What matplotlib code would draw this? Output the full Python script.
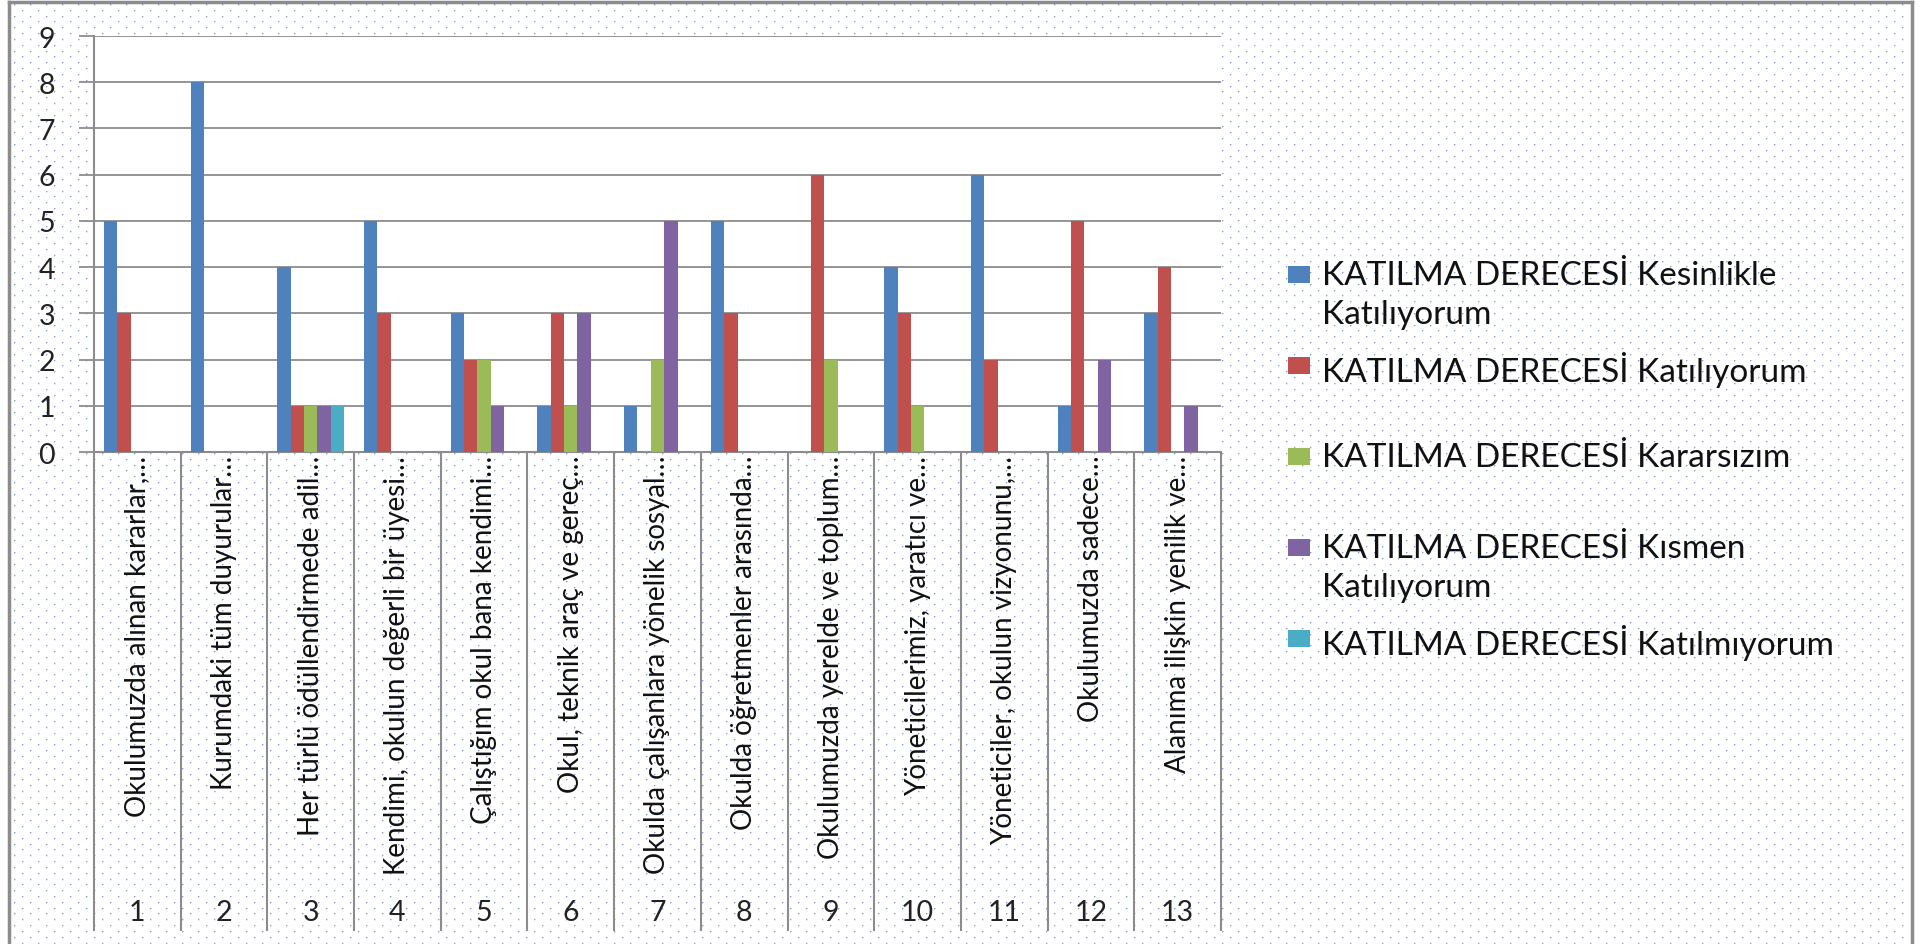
import numpy as np
import matplotlib
matplotlib.use("Agg")
import matplotlib.pyplot as plt
from matplotlib import transforms
from matplotlib.patches import Rectangle
from matplotlib.lines import Line2D

plt.rcParams['font.family'] = ['Lato', 'DejaVu Sans']

# data
questions = [
    "Okulumuzda alınan kararlar,…",
    "Kurumdaki tüm duyurular…",
    "Her türlü ödüllendirmede adil…",
    "Kendimi, okulun değerli bir üyesi…",
    "Çalıştığım okul bana kendimi…",
    "Okul, teknik araç ve gereç…",
    "Okulda çalışanlara yönelik sosyal…",
    "Okulda öğretmenler arasında…",
    "Okulumuzda yerelde ve toplum…",
    "Yöneticilerimiz, yaratıcı ve…",
    "Yöneticiler, okulun vizyonunu,…",
    "Okulumuzda sadece…",
    "Alanıma ilişkin yenilik ve…",
]
numbers = [str(i) for i in range(1, 14)]

kesinlikle = [5, 8, 4, 5, 3, 1, 1, 5, 0, 4, 6, 1, 3]
katiliyorum = [3, 0, 1, 3, 2, 3, 0, 3, 6, 3, 2, 5, 4]
kararsizim = [0, 0, 1, 0, 2, 1, 2, 0, 2, 1, 0, 0, 0]
kismen = [0, 0, 1, 0, 1, 3, 5, 0, 0, 0, 0, 2, 1]
katilmiyorum = [0, 0, 1, 0, 0, 0, 0, 0, 0, 0, 0, 0, 0]

series_names = [
    "KATILMA DERECESİ Kesinlikle\nKatılıyorum",
    "KATILMA DERECESİ Katılıyorum",
    "KATILMA DERECESİ Kararsızım",
    "KATILMA DERECESİ Kısmen\nKatılıyorum",
    "KATILMA DERECESİ Katılmıyorum",
]
series = [kesinlikle, katiliyorum, kararsizim, kismen, katilmiyorum]
colors = ["#4F81BD", "#C0504D", "#9BBB59", "#8064A2", "#4BACC6"]

W, H = 1923, 945
fig = plt.figure(figsize=(W / 100, H / 100), dpi=100, facecolor="white")

# dotted background like the excel chart area
bg = np.ones((H, W, 3))
dot = np.array([0.52, 0.64, 0.87])
halo = np.array([0.78, 0.84, 0.95])
for i, r in enumerate(np.arange(5, H, 5.83)):
    y = int(round(r))
    x0 = 14 + (8 if i % 2 else 0)
    xs = np.arange(x0, 1908, 16)
    bg[y, xs] = dot
    bg[y, xs + 1] = halo
    if y + 1 < H:
        bg[y + 1, xs] = halo
fig.figimage(bg, 0, 0, zorder=-10)

# frame
gray = "#8c8c8c"
fx = lambda p: p / W
fy = lambda p: 1 - p / H
fig.add_artist(Line2D([fx(9), fx(9)], [fy(3), fy(945)], color=gray, lw=2.5))
fig.add_artist(Line2D([fx(9), fx(1912)], [fy(3), fy(3)], color=gray, lw=2.5))
fig.add_artist(Line2D([fx(1912), fx(1912)], [fy(3), fy(945)], color=gray, lw=2.5))

ax = fig.add_axes([fx(94), fy(453), (1221 - 94) / W, (453 - 37) / H])
ax.set_facecolor("white")

x = np.arange(len(questions))
bw = 0.154
for k, (vals, c) in enumerate(zip(series, colors)):
    ax.bar(x + (k - 2) * bw, vals, width=bw, color=c, linewidth=0, zorder=3)

ax.set_xlim(-0.5, len(questions) - 0.5)
ax.set_ylim(0, 9)
ax.set_yticks(range(0, 10))
ax.yaxis.grid(True, color=gray, lw=1.3, zorder=0)
ax.set_axisbelow(True)
for s in ["top", "right"]:
    ax.spines[s].set_visible(False)
ax.spines["left"].set_color(gray)
ax.spines["bottom"].set_color(gray)
ax.spines["left"].set_linewidth(1.5)
ax.spines["bottom"].set_linewidth(1.5)

ax.tick_params(axis="y", direction="out", length=11, width=1.3, color=gray,
               labelsize=20.5, pad=17, labelcolor="#222222")
ax.set_xticks(x)
ax.set_xticklabels(questions, rotation=90, fontsize=20, color="#111111")
ax.tick_params(axis="x", which="major", length=0, pad=2)
ax.set_xticks(np.arange(-0.5, len(questions), 1), minor=True)
ax.tick_params(axis="x", which="minor", direction="out", length=345,
               width=1.5, color=gray)

trans = transforms.blended_transform_factory(ax.transData, ax.transAxes)
for i, n in zip(x, numbers):
    ax.text(i, (453 - 913) / 416, n, transform=trans, ha="center",
            va="center", fontsize=20.5, color="#222222")

# legend
for k, (name, c) in enumerate(zip(series_names, colors)):
    yc = 275 + 91 * k
    fig.add_artist(Rectangle((fx(1288), fy(yc + 9)), 22 / W, 17 / H,
                             transform=fig.transFigure, color=c, lw=0))
    fig.text(fx(1322), fy(yc - 14), name, ha="left", va="top",
             fontsize=24, color="#111111", linespacing=1.36)

fig.savefig("out.png", dpi=100, facecolor="white")
